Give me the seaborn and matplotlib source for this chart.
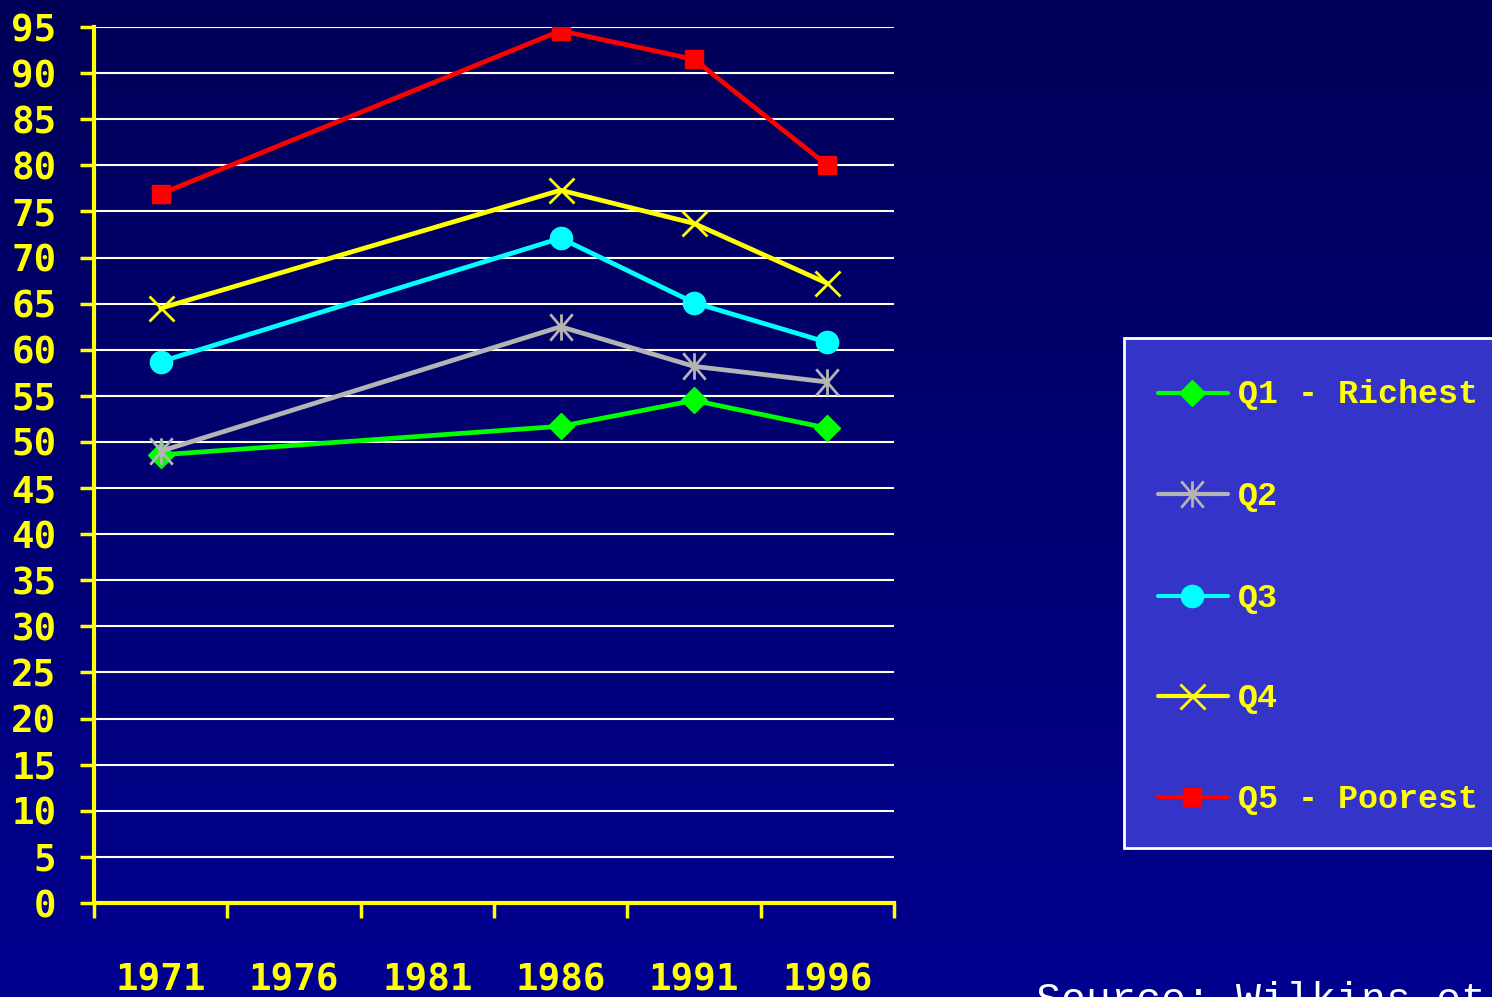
import numpy as np
import pandas as pd
import matplotlib
matplotlib.use("Agg")
import matplotlib.pyplot as plt
import seaborn as sns
from matplotlib.colors import LinearSegmentedColormap
from matplotlib.lines import Line2D
from matplotlib.patches import Rectangle
from matplotlib.path import Path

# ---- data -------------------------------------------------------------
years = ["1971", "1976", "1981", "1986", "1991", "1996"]
survey_years = ["1971", "1986", "1991", "1996"]
q1_richest = [48.6, 51.7, 54.5, 51.5]
q2 = [49.0, 62.5, 58.2, 56.5]
q3 = [58.7, 72.1, 65.1, 60.8]
q4 = [64.5, 77.3, 73.7, 67.2]
q5_poorest = [76.9, 94.6, 91.5, 80.0]
series_names = ["Q1 - Richest", "Q2", "Q3", "Q4", "Q5 - Poorest"]
y_ticks = list(range(0, 100, 5))

series_values = [q1_richest, q2, q3, q4, q5_poorest]

# ---- styles -----------------------------------------------------------
YELLOW = "#ffff00"
asterisk = Path(
    [(0, -1), (0, 1), (-0.85, -1), (0.85, 1), (-0.85, 1), (0.85, -1)],
    [Path.MOVETO, Path.LINETO, Path.MOVETO, Path.LINETO, Path.MOVETO, Path.LINETO],
)
styles = {
    "Q1 - Richest": dict(color="#00ff00", marker="D", ms=13, mew=1),
    "Q2": dict(color="#b4b4b4", marker=asterisk, ms=19, mew=2),
    "Q3": dict(color="#00ffff", marker="o", ms=16, mew=1),
    "Q4": dict(color=YELLOW, marker="x", ms=18, mew=2),
    "Q5 - Poorest": dict(color="#ff0000", marker="s", ms=12.5, mew=1),
}

rows = []
for name, vals in zip(series_names, series_values):
    for yr, v in zip(survey_years, vals):
        rows.append({"series": name, "pos": years.index(yr), "value": v})
df = pd.DataFrame(rows)

sns.set_theme(style="white")
plt.rcParams["font.family"] = ["DejaVu Sans Mono", "DejaVu Sans"]

W, H = 1492, 997
fig = plt.figure(figsize=(W / 100, H / 100), dpi=100)

# gradient backdrop
bg = fig.add_axes([0, 0, 1, 1], zorder=-10)
grad = np.linspace(0, 1, 256).reshape(-1, 1)
cmap = LinearSegmentedColormap.from_list("bg", ["#000058", "#00008f"])
bg.imshow(grad, aspect="auto", cmap=cmap, extent=[0, 1, 0, 1], origin="upper")
bg.axis("off")

ax = fig.add_axes([94 / W, 94 / H, 800 / W, 876 / H])
ax.set_facecolor("none")

for name in series_names:
    st = styles[name]
    sub = df[df["series"] == name]
    sns.lineplot(
        data=sub, x="pos", y="value", ax=ax, color=st["color"], lw=3.4,
        marker=st["marker"], markersize=st["ms"], markeredgewidth=st["mew"],
        markeredgecolor=st["color"], markerfacecolor=st["color"],
        legend=False, zorder=3,
    )

ax.set_xlim(-0.5, len(years) - 0.5)
ax.set_ylim(0, 95)
ax.set_xlabel("")
ax.set_ylabel("")

for s in ["top", "right"]:
    ax.spines[s].set_visible(False)
for s in ["left", "bottom"]:
    ax.spines[s].set_color(YELLOW)
    ax.spines[s].set_linewidth(3)
    ax.spines[s].set_capstyle("projecting")

ax.set_yticks(y_ticks)
ax.set_yticklabels([str(t) for t in y_ticks])
ax.yaxis.grid(True, color="#fffff0", lw=1.5)
ax.xaxis.grid(False)
ax.set_axisbelow(True)

ax.set_xticks(np.arange(-0.5, len(years), 1.0))
ax.set_xticklabels([])
ax.set_xticks(np.arange(len(years)), minor=True)
ax.set_xticklabels(years, minor=True)

ax.tick_params(axis="y", which="major", direction="out", length=10, width=2.5,
               color=YELLOW, labelcolor=YELLOW, labelsize=27, pad=17, left=True)
ax.tick_params(axis="x", which="major", direction="out", length=11, width=2.5,
               color=YELLOW, bottom=True)
ax.tick_params(axis="x", which="minor", length=0, labelcolor=YELLOW,
               labelsize=27, pad=43)
for lbl in ax.get_yticklabels() + ax.get_xticklabels(minor=True):
    lbl.set_fontweight("bold")

# ---- legend box -------------------------------------------------------
def fx(px):
    return px / W


def fy(py):
    return 1 - py / H


fig.add_artist(Rectangle((fx(1124), fy(848)), fx(400), (848 - 338) / H,
                         transform=fig.transFigure, facecolor="#3434c8",
                         edgecolor="#fffff0", lw=2, zorder=5))
row_y = [393, 494, 596, 696, 797]
for name, ry in zip(series_names, row_y):
    st = styles[name]
    fig.add_artist(Line2D([fx(1158), fx(1228)], [fy(ry), fy(ry)],
                          transform=fig.transFigure, color=st["color"],
                          lw=3, solid_capstyle="round", zorder=6))
    fig.add_artist(Line2D([fx(1192)], [fy(ry)], transform=fig.transFigure,
                          marker=st["marker"], ms=st["ms"], mew=st["mew"],
                          mec=st["color"], mfc=st["color"], ls="none", zorder=7))
    fig.text(fx(1238), fy(ry + 2), name, color=YELLOW, fontsize=24,
             fontweight="bold", family=["Liberation Mono", "DejaVu Sans Mono"],
             va="center", ha="left", zorder=8)

fig.text(fx(1036), fy(1012), "Source: Wilkins et al.", color="#ffffff",
         fontsize=30, family=["Liberation Mono", "DejaVu Sans Mono"],
         va="baseline", ha="left")

fig.savefig("out.png", dpi=100)
